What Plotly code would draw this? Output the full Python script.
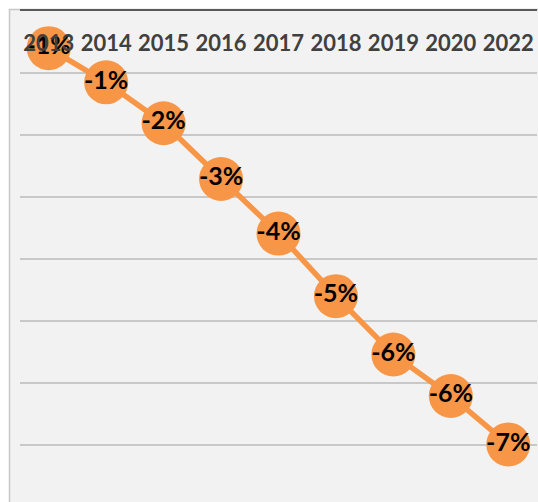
import plotly.graph_objects as go

years = ["2013", "2014", "2015", "2016", "2017", "2018", "2019", "2020", "2022"]
values = [-0.60, -1.15, -1.81, -2.71, -3.59, -4.60, -5.54, -6.21, -6.99]
labels = [f"{v:.0f}%" for v in values]

W, H = 538, 502
ml, mr, mt, mb = 20, 1, 11, 0
pw = W - ml - mr
ph = H - mt - mb

fig = go.Figure()
fig.add_trace(go.Scatter(
    x=years, y=values, mode="lines+markers+text",
    line=dict(color="#F79646", width=5.5),
    marker=dict(color="#F79646", size=44, line=dict(width=0)),
    text=labels, textposition="middle center",
    textfont=dict(family="Lato", size=25, color="#000000", weight="bold"),
    hoverinfo="skip", cliponaxis=False,
))

fig.update_layout(
    width=W, height=H,
    margin=dict(l=ml, r=mr, t=mt, b=mb, autoexpand=False),
    paper_bgcolor="#ffffff", plot_bgcolor="#f2f2f2",
    showlegend=False,
    xaxis=dict(
        type="category", side="top", showline=True, linecolor="#595959", linewidth=2,
        ticks="", showgrid=False, ticklabelposition="inside", ticklabelstandoff=26,
        tickfont=dict(family="Lato", size=22, color="#404040", weight="bold"),
        range=[-0.5, len(years) - 0.5], fixedrange=True, automargin=False,
    ),
    yaxis=dict(
        range=[-ph / 62.0, 0], dtick=1, showticklabels=False, ticks="",
        showgrid=True, gridcolor="#c8c8c8", gridwidth=1.5, zeroline=False, showline=False,
        automargin=False,
    ),
    shapes=[dict(
        type="rect", xref="paper", yref="paper", layer="below",
        x0=(9.5 - ml) / pw, x1=1.05, y0=-0.05, y1=1 + (mt - 9.5) / ph,
        fillcolor="#f2f2f2", line=dict(color="#c8c8c8", width=1.5),
    )],
)

fig.write_html(
    "out.html",
    config={"displayModeBar": False},
    post_script=["document.body.style.margin='0';document.body.style.overflow='hidden';"],
)
